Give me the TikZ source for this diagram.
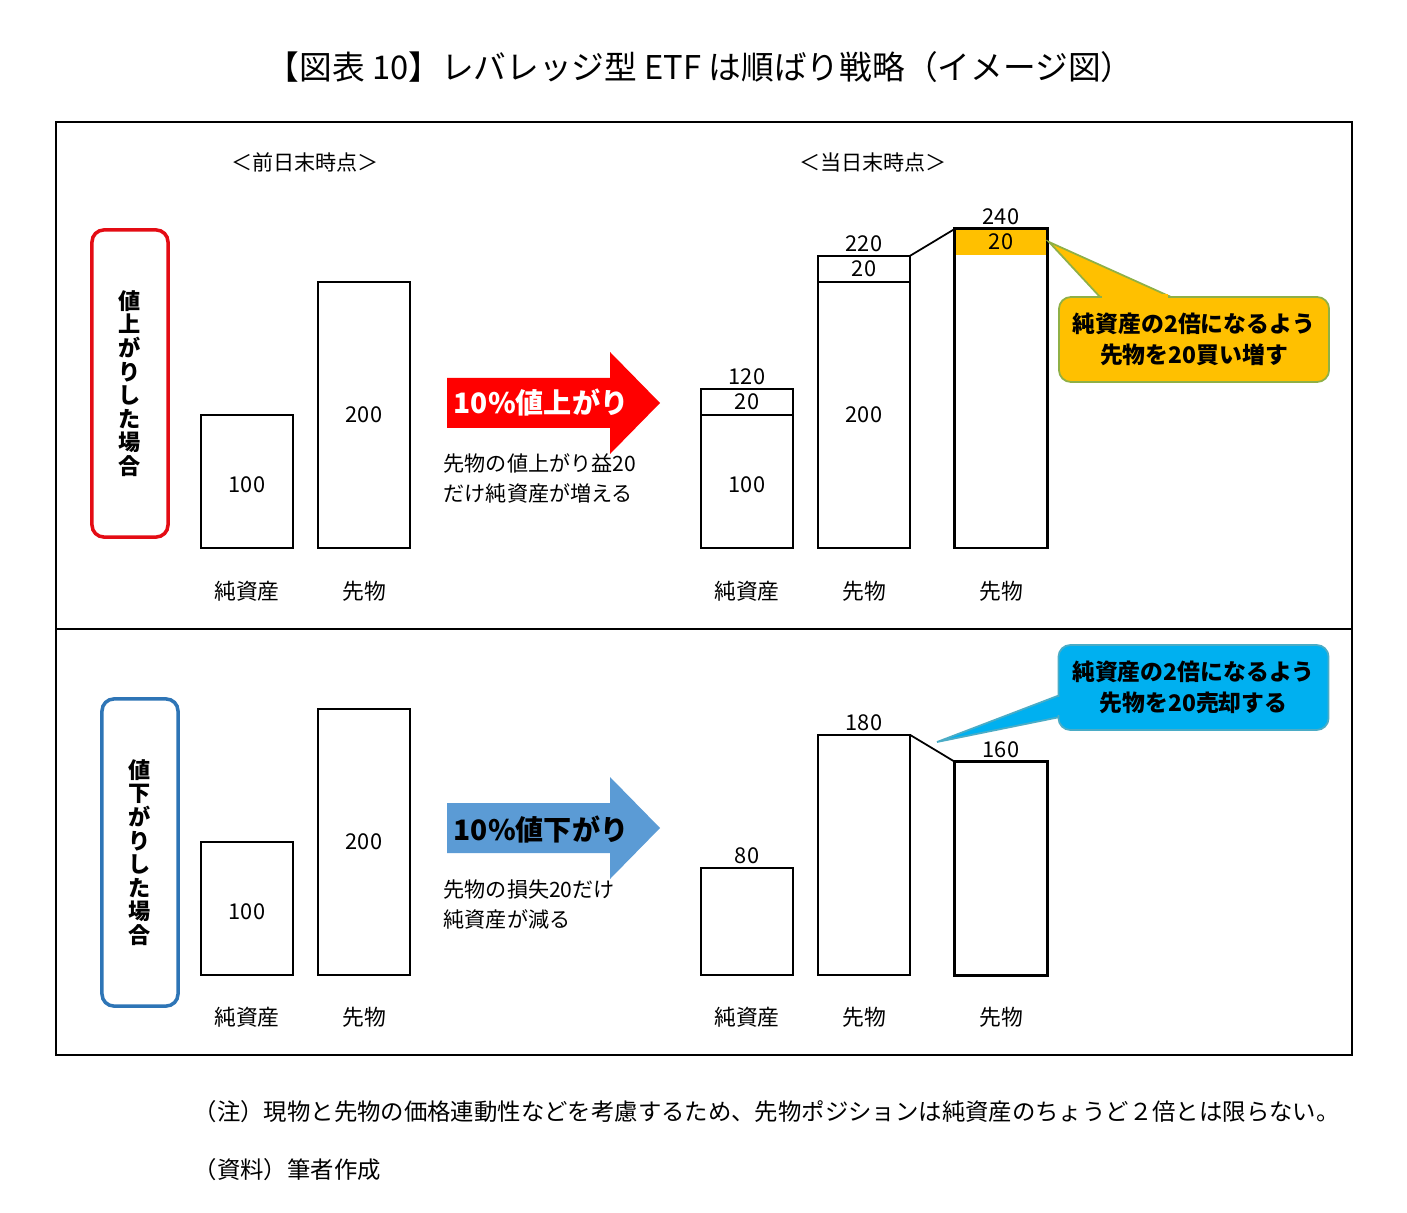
\documentclass[tikz,border=0pt]{standalone}
\usepackage{fontspec}
\setmainfont{Noto Sans CJK JP}
\usetikzlibrary{positioning}

\begin{document}
\begin{tikzpicture}[x=0.01cm, y=-0.01cm,
    bar/.style={draw, line width=0.4pt, anchor=south, minimum width=0.92cm, inner sep=0pt, outer sep=0pt, font=\fontsize{6.2}{7}\selectfont},
    barthick/.style={bar, line width=0.85pt},
    num/.style={inner sep=1pt, font=\fontsize{6.2}{7}\selectfont},
    axislabel/.style={font=\fontsize{6.2}{7}\selectfont},
    header/.style={font=\fontsize{6}{7}\selectfont},
    casebox/.style={draw, rounded corners=0.12cm, line width=1pt, minimum width=0.76cm, minimum height=3.07cm, align=center, font=\bfseries\fontsize{6.3}{6.7}\selectfont},
    note/.style={anchor=west, inner sep=0pt, align=left, font=\fontsize{6}{8.3}\selectfont},
    callout/.style={rounded corners=0.12cm, line width=0.5pt, minimum width=2.7cm, minimum height=0.85cm, align=center, font=\bfseries\fontsize{6.5}{9}\selectfont}
]

        % Define colors
        \definecolor{upred}{RGB}{228,12,20} % case box, rise
        \definecolor{downblue}{RGB}{46,117,182} % case box, fall
        \definecolor{arrowred}{RGB}{255,0,0}
        \definecolor{arrowblue}{RGB}{91,155,213}
        \definecolor{buyfill}{RGB}{255,192,0}
        \definecolor{buyline}{RGB}{143,176,70}
        \definecolor{sellfill}{RGB}{0,176,240}
        \definecolor{sellline}{RGB}{75,172,198}

        \useasboundingbox (0,0) rectangle (1407,1213);

        % Title
        \node[font=\fontsize{9.3}{11}\selectfont] (title) at (700,67) {【図表 10】レバレッジ型 ETF は順ばり戦略（イメージ図）};

        % Frame and divider
        \draw[line width=0.6pt] (56,122) rectangle (1352,1055);
        \draw[line width=0.6pt] (56,629) -- (1352,629);

        % Column headers
        \node[header] (prevhead) at (305,162) {＜前日末時点＞};
        \node[header] (curhead) at (873,162) {＜当日末時点＞};

        % ---- Upper half: price rises ----
        \node[casebox, draw=upred] (upcase) at (130,383.5) {値\\上\\が\\り\\し\\た\\場\\合};

        % Previous day
        \node[bar, minimum height=1.33cm] (navA) at (247,548) {\raisebox{-1pt}[\height][0pt]{100}};
        \node[bar, minimum height=2.66cm] (futA) at (364,548) {200};
        \node[axislabel] (navAlbl) at (247,591) {純資産};
        \node[axislabel] (futAlbl) at (364,591) {先物};

        % Arrow
        \fill[arrowred] (447,378) -- (610,378) -- (610,352) -- (660,403) -- (610,454) -- (610,428) -- (447,428) -- cycle;
        \node[white, font=\bfseries\fontsize{8}{9}\selectfont] (uptext) at (541,403) {10\%値上がり};
        \node[note] (upnote) at (443,478.5) {先物の値上がり益20\\だけ純資産が増える};

        % Current day
        \node[bar, minimum height=1.33cm] (navB) at (747,548) {\raisebox{-1pt}[\height][0pt]{100}};
        \node[bar, minimum height=0.26cm] (navBadd) at (navB.north) {20};
        \node[num, above=0pt of navBadd] (navBsum) {120};
        \node[bar, minimum height=2.66cm] (futB) at (864,548) {200};
        \node[bar, minimum height=0.26cm] (futBadd) at (futB.north) {20};
        \node[num, above=0pt of futBadd] (futBsum) {220};
        \node[bar, draw=none, fill=buyfill, minimum height=0.26cm] (futCadd) at (1001,255) {20};
        \node[barthick, minimum height=3.19cm] (futC) at (1001,548) {};
        \node[num, above=0pt of futC] (futCsum) {240};
        \draw[line width=0.5pt] (futBadd.north east) -- (futC.north west);
        \node[axislabel] (navBlbl) at (747,591) {純資産};
        \node[axislabel] (futBlbl) at (864,591) {先物};
        \node[axislabel] (futClbl) at (1001,591) {先物};

        % Callout: buy
        \coordinate (buytip) at (1049,242);
        \filldraw[fill=buyfill, draw=buyline, line width=0.5pt] (buytip) -- (1100,297) -- (1171,297) -- cycle;
        \node[callout, fill=buyfill, draw=buyline] (buybox) at (1194,339.5) {純資産の2倍になるよう\\先物を20買い増す};
        \fill[buyfill] (1102,294) rectangle (1168,300);

        % ---- Lower half: price falls ----
        \node[casebox, draw=downblue] (downcase) at (140,852.5) {値\\下\\が\\り\\し\\た\\場\\合};

        % Previous day
        \node[bar, minimum height=1.33cm] (navD) at (247,975) {\raisebox{-1pt}[\height][0pt]{100}};
        \node[bar, minimum height=2.66cm] (futD) at (364,975) {200};
        \node[axislabel] (navDlbl) at (247,1017) {純資産};
        \node[axislabel] (futDlbl) at (364,1017) {先物};

        % Arrow
        \fill[arrowblue] (447,803) -- (610,803) -- (610,777) -- (660,828) -- (610,879) -- (610,853) -- (447,853) -- cycle;
        \node[font=\bfseries\fontsize{8}{9}\selectfont] (downtext) at (541,829) {10\%値下がり};
        \node[note] (downnote) at (443,904.5) {先物の損失20だけ\\純資産が減る};

        % Current day
        \node[bar, minimum height=1.07cm] (navE) at (747,975) {};
        \node[num, above=0pt of navE] (navEsum) {80};
        \node[bar, minimum height=2.40cm] (futE) at (864,975) {};
        \node[num, above=0pt of futE] (futEsum) {180};
        \node[barthick, minimum height=2.13cm] (futF) at (1001,975) {};
        \node[num, above=0pt of futF] (futFsum) {160};
        \draw[line width=0.5pt] (futE.north east) -- (futF.north west);
        \node[axislabel] (navElbl) at (747,1017) {純資産};
        \node[axislabel] (futElbl) at (864,1017) {先物};
        \node[axislabel] (futFlbl) at (1001,1017) {先物};

        % Callout: sell
        \coordinate (selltip) at (937,742);
        \filldraw[fill=sellfill, draw=sellline, line width=0.5pt] (selltip) -- (1060,695) -- (1060,717) -- cycle;
        \node[callout, fill=sellfill, draw=sellline] (sellbox) at (1193.5,687.5) {純資産の2倍になるよう\\先物を20売却する};
        \fill[sellfill] (1057,697) rectangle (1063,715);

        % Footnotes
        \node[note, font=\fontsize{6.65}{8}\selectfont] (footnote) at (193,1112) {（注）現物と先物の価格連動性などを考慮するため、先物ポジションは純資産のちょうど２倍とは限らない。};
        \node[note, font=\fontsize{6.65}{8}\selectfont] (source) at (193,1170) {（資料）筆者作成};
        \end{tikzpicture}
\end{document}
